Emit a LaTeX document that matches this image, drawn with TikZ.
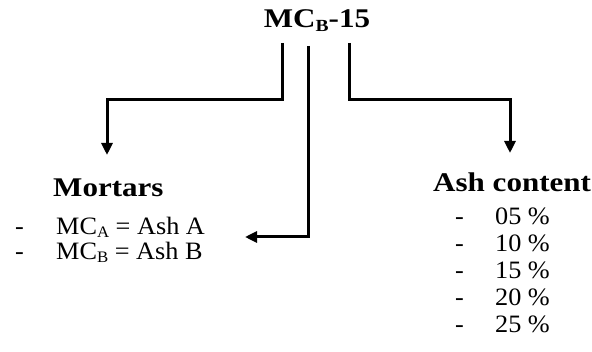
\documentclass[tikz,border=0pt]{standalone}
\usepackage{fontspec}
\setmainfont{Liberation Serif}
\newfontfamily\widebold[FakeStretch=1.15]{Liberation Serif}
\newfontfamily\widereg[FakeStretch=1.05]{Liberation Serif}
\usetikzlibrary{arrows.meta}
\newcommand{\sbx}[2]{\raisebox{-0.12em}{\fontsize{#1}{#1}\selectfont #2}}
\begin{document}
\begin{tikzpicture}[x=1pt,y=-1pt,
  conn/.style={line width=3pt,-{Triangle[length=12pt,width=11pt]}},
  bigtxt/.style={font=\widebold\fontsize{27}{30}\selectfont\bfseries,inner sep=0pt,anchor=base west},
  txt/.style={font=\widereg\fontsize{25}{28}\selectfont,inner sep=0pt,anchor=base west}]
\useasboundingbox[fill=white] (0,0) rectangle (592,352);
\node[bigtxt,anchor=base] (title) at (317,28) {MC\sbx{17}{B}-15};
\node[bigtxt] (mort) at (53,197) {Mortars};
\node[txt] (d1) at (15,235) {-};
\node[txt] (m1) at (56,235) {MC\sbx{16}{A} = Ash A};
\node[txt] (d2) at (15,260) {-};
\node[txt] (m2) at (56,260) {MC\sbx{16}{B} = Ash B};
\node[bigtxt] (ash) at (433,192) {Ash content};
\foreach \v [count=\i from 0] in {05,10,15,20,25}{
  \node[txt] (dd\i) at (455,225+27*\i) {-};
  \node[txt] (p\i) at (495,225+27*\i) {\v\ \%};
}
\coordinate (s1) at (282,43);
\coordinate (s2) at (308,46);
\coordinate (s3) at (349,43);
\coordinate (e1) at (107,155);
\coordinate (e2) at (245,237);
\coordinate (e3) at (510,153);
\draw[conn] (s1) |- (107,100) -- (e1);
\draw[conn] (s2) |- (e2);
\draw[conn] (s3) |- (510,100) -- (e3);
\end{tikzpicture}
\end{document}
